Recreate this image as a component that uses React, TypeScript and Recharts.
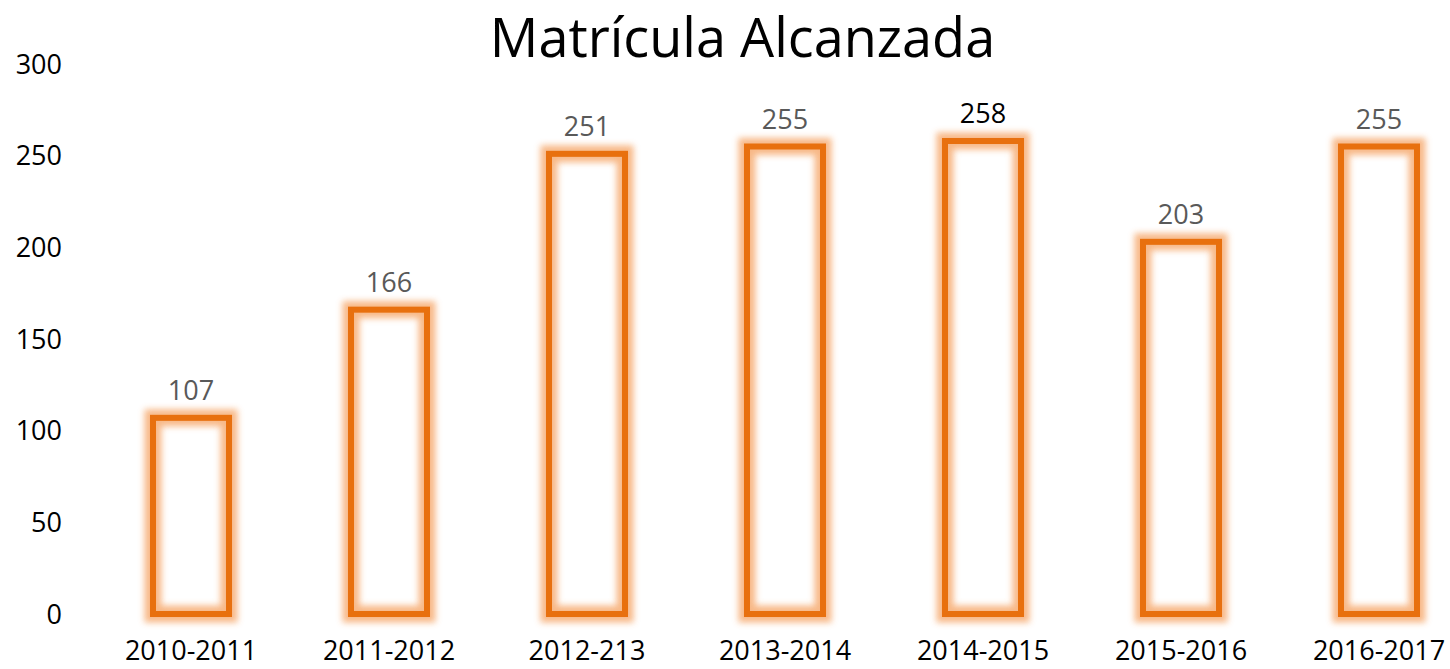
import React from 'react';
import { BarChart, Bar, XAxis, YAxis, LabelList } from 'recharts';

const categories = ['2010-2011', '2011-2012', '2012-213', '2013-2014', '2014-2015', '2015-2016', '2016-2017'];
const values = [107, 166, 251, 255, 258, 203, 255];
const labelColors = ['#595959', '#595959', '#595959', '#595959', '#000000', '#595959', '#595959'];
const yTicks = [0, 50, 100, 150, 200, 250, 300];

const data = categories.map((c, i) => ({ name: c, value: values[i] }));

const FONT = '"Open Sans", sans-serif';

const GlowBar = (props: any) => {
  const { x, y, width, height } = props;
  return (
    <g>
      <defs>
        <filter id="glowBlur" x="-30%" y="-30%" width="160%" height="160%">
          <feGaussianBlur stdDeviation="3.2" />
        </filter>
      </defs>
      <rect x={x} y={y} width={width} height={height} fill="none" stroke="#F7B17A" strokeWidth={17} opacity={0.9} filter="url(#glowBlur)" />
      <rect x={x} y={y} width={width} height={height} fill="none" stroke="#E8700E" strokeWidth={6} />
    </g>
  );
};

const ValueLabel = (props: any) => {
  const { x, y, width, value, index } = props;
  return (
    <text x={x + width / 2} y={y - 18} textAnchor="middle" fontFamily={FONT} fontSize={27} fill={labelColors[index]}>
      {value}
    </text>
  );
};

export default function App() {
  return (
    <div style={{ position: 'absolute', left: 0, top: 0, width: 1450, height: 669, overflow: 'hidden', background: '#fff' }}>
      <div style={{ position: 'absolute', left: 0, top: 0, width: 1485, textAlign: 'center', fontFamily: FONT, fontSize: 54, lineHeight: '72px', color: '#000' }}>
        Matrícula Alcanzada
      </div>
      <BarChart width={1500} height={669} data={data} margin={{ top: 64, right: 22, bottom: 0, left: 0 }} barSize={76}>
        <XAxis dataKey="name" height={55} axisLine={false} tickLine={false} tickMargin={21} tick={{ fontFamily: FONT, fontSize: 27, fill: '#000' }} interval={0} />
        <YAxis width={92} domain={[0, 300]} ticks={yTicks} axisLine={false} tickLine={false} tickMargin={24} tick={{ fontFamily: FONT, fontSize: 27, fill: '#000' }} />
        <Bar dataKey="value" isAnimationActive={false} shape={<GlowBar />}>
          <LabelList dataKey="value" content={<ValueLabel />} />
        </Bar>
      </BarChart>
    </div>
  );
}
